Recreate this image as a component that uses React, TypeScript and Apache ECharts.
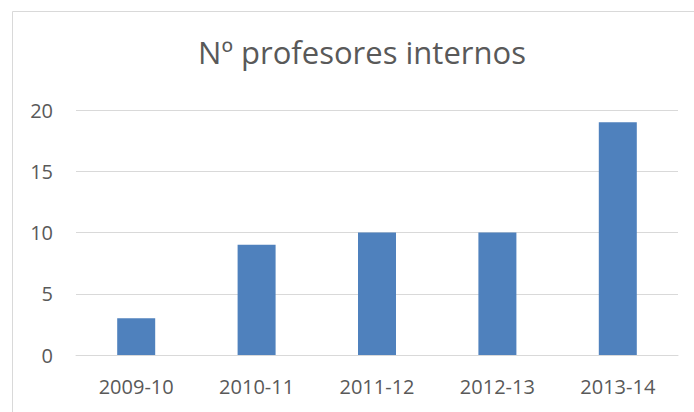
import React, { useEffect, useRef } from "react";
import * as echarts from "echarts";

const categories = ["2009-10", "2010-11", "2011-12", "2012-13", "2013-14"];
const values = [3, 9, 10, 10, 19];
const titleText = "Nº profesores internos";

export default function App() {
  const ref = useRef<HTMLDivElement>(null);
  useEffect(() => {
    if (!ref.current) return;
    const chart = echarts.init(ref.current, undefined, { renderer: "svg" });
    chart.setOption({
      animation: false,
      backgroundColor: "#ffffff",
      textStyle: { fontFamily: "Open Sans" },
      title: {
        text: titleText,
        left: 357,
        top: 31,
        textAlign: "center",
        textStyle: { fontFamily: "Open Sans", fontSize: 31, fontWeight: "normal", color: "#595959" },
      },
      graphic: [
        {
          type: "rect",
          shape: { x: 12.5, y: 11.5, width: 800, height: 600 },
          style: { fill: "none", stroke: "#d9d9d9", lineWidth: 1 },
          silent: true,
        },
      ],
      grid: { left: 76, right: 16, top: 110, bottom: 57 },
      xAxis: {
        type: "category",
        data: categories,
        axisLine: { show: true, lineStyle: { color: "#d9d9d9", width: 1 } },
        axisTick: { show: false },
        axisLabel: { color: "#595959", fontSize: 20, margin: 21, fontFamily: "Open Sans" },
      },
      yAxis: {
        type: "value",
        min: 0,
        max: 20,
        interval: 5,
        axisLine: { show: false },
        axisTick: { show: false },
        splitLine: { lineStyle: { color: "#d9d9d9", width: 1 } },
        axisLabel: { color: "#595959", fontSize: 20, margin: 23, fontFamily: "Open Sans" },
      },
      series: [
        {
          type: "bar",
          data: values,
          barWidth: 38,
          itemStyle: { color: "#4f81bd" },
        },
      ],
    });
    return () => chart.dispose();
  }, []);
  return (
    <div
      ref={ref}
      style={{ position: "absolute", left: 0, top: 0, width: 694, height: 412 }}
    />
  );
}
